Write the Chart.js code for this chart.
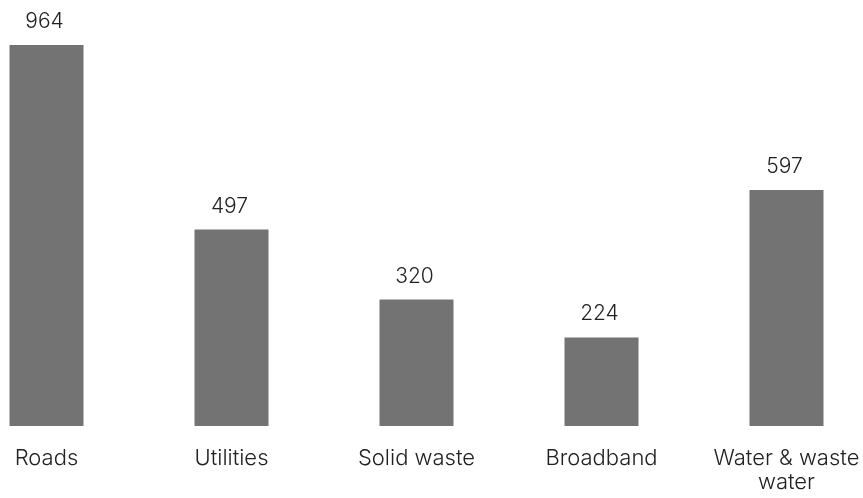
<!DOCTYPE html>
<html>
<head>
<meta charset="utf-8">
<script src="https://cdn.jsdelivr.net/npm/chart.js@4/dist/chart.umd.min.js"></script>
<style>
  html, body { margin: 0; padding: 0; background: #fff; }
  #wrap { width: 863px; height: 498px; }
</style>
</head>
<body>
<div id="wrap"><canvas id="spend"></canvas></div>
<script>
const categories = ['Roads', 'Utilities', 'Solid waste', 'Broadband', ['Water & waste', 'water']];
const values = [964, 497, 320, 224, 597];

const FONT = 'Inter, "Noto Sans", sans-serif';
const TEXT = '#222222';

// numbers above each bar
const valueLabels = {
  id: 'valueLabels',
  afterDatasetsDraw(chart) {
    const ctx = chart.ctx;
    const meta = chart.getDatasetMeta(0);
    ctx.save();
    ctx.font = '300 21px ' + FONT;
    ctx.fillStyle = TEXT;
    ctx.textAlign = 'center';
    ctx.textBaseline = 'alphabetic';
    meta.data.forEach((bar, i) => {
      ctx.fillText(String(values[i]), bar.x - 2, bar.y - 17);
    });
    ctx.restore();
  }
};

new Chart(document.getElementById('spend'), {
  type: 'bar',
  data: {
    labels: categories,
    datasets: [{
      data: values,
      backgroundColor: '#737373',
      borderWidth: 0,
      categoryPercentage: 1,
      barPercentage: 0.4,
      clip: false
    }]
  },
  options: {
    responsive: true,
    maintainAspectRatio: false,
    animation: false,
    layout: { padding: { left: 46.5, right: 76.5, top: 30.8, bottom: 0 } },
    plugins: {
      legend: { display: false },
      tooltip: { enabled: false }
    },
    scales: {
      x: {
        offset: false,
        grid: { display: false },
        border: { display: false },
        ticks: {
          color: TEXT,
          padding: 12,
          maxRotation: 0,
          autoSkip: false,
          font: { family: FONT, size: 22, weight: 300, lineHeight: 1.09 }
        },
        afterFit(axis) {
          axis.height = 72;
          axis.paddingLeft = 0;
          axis.paddingRight = 0;
        }
      },
      y: {
        display: false,
        min: 0,
        max: 1000
      }
    }
  },
  plugins: [valueLabels]
});
</script>
</body>
</html>
